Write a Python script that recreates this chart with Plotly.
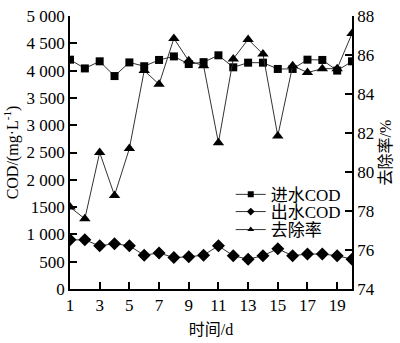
import plotly.graph_objects as go

days = list(range(1, 21))
cod_in = [4200, 4040, 4170, 3900, 4150, 4080, 4195, 4260, 4120, 4155,
          4280, 4060, 4145, 4145, 4030, 4030, 4200, 4195, 4000, 4170]
cod_out = [900, 900, 790, 830, 790, 620, 660, 575, 590, 620,
           790, 610, 545, 610, 735, 610, 640, 640, 610, 545]
removal = [78.2, 77.6, 81.0, 78.8, 81.2, 85.2, 84.5, 86.85, 85.7, 85.45,
           81.5, 85.8, 86.8, 86.05, 81.85, 85.45, 85.1, 85.3, 85.3, 87.1]

left_ticks = [0, 500, 1000, 1500, 2000, 2500, 3000, 3500, 4000, 4500, 5000]
left_text = ["0", "500", "1 000", "1500", "2 000", "2 500", "3 000",
             "3 500", "4 000", "4 500", "5 000"]
right_ticks = [74, 76, 78, 80, 82, 84, 86, 88]
x_ticks = list(range(1, 20, 2))

series_names = ["进水COD", "出水COD", "去除率"]
symbols = ["square", "diamond", "triangle-up"]

FONT = "Liberation Serif, Times New Roman, Noto Sans CJK SC, serif"
LINE = dict(color="#333333", width=1)

fig = go.Figure()
fig.add_trace(go.Scatter(x=days, y=cod_in, mode="lines+markers", showlegend=False,
                         line=LINE, marker=dict(symbol=symbols[0], size=8, color="black")))
fig.add_trace(go.Scatter(x=days, y=cod_out, mode="lines+markers", showlegend=False,
                         line=LINE, marker=dict(symbol=symbols[1], size=10, color="black")))
fig.add_trace(go.Scatter(x=days, y=removal, mode="lines+markers", showlegend=False,
                         yaxis="y2", line=LINE,
                         marker=dict(symbol=symbols[2], size=10, color="black")))

# legend entries with small key markers, one legend per row
legend_rows = [0.345, 0.282, 0.216]
legend_ids = ["legend", "legend2", "legend3"]
for name, sym, lid in zip(series_names, symbols, legend_ids):
    fig.add_trace(go.Scatter(x=[None], y=[None], name=name, mode="lines+markers",
                             legend=lid, line=LINE,
                             marker=dict(symbol=sym, size=6, color="black")))

axis_common = dict(showgrid=False, zeroline=False, showline=True, linecolor="black",
                   linewidth=1.5, ticks="inside", ticklen=7, tickwidth=1.5,
                   tickcolor="black", ticklabeloverflow="allow",
                   tickfont=dict(family=FONT, size=17, color="black"))

legend_style = dict(x=0.57, xanchor="left", yanchor="middle", bgcolor="rgba(0,0,0,0)",
                    font=dict(family=FONT, size=17, color="black"), itemwidth=30,
                    borderwidth=0)

fig.update_layout(
    width=400, height=343,
    margin=dict(l=70, r=48, t=7, b=49),
    paper_bgcolor="white", plot_bgcolor="white",
    font=dict(family=FONT, size=17, color="black"),
    xaxis=dict(range=[1, 20], tickvals=x_ticks, **axis_common,
               title=dict(text="时间/d", font=dict(family=FONT, size=16), standoff=10)),
    yaxis=dict(range=[0, 5000], tickvals=left_ticks, ticktext=left_text, **axis_common,
               title=dict(text="COD/(mg·L<sup>-1</sup>)", font=dict(family=FONT, size=16),
                          standoff=4)),
    yaxis2=dict(range=[74, 88], tickvals=right_ticks, overlaying="y", side="right",
                **axis_common,
                title=dict(text="去除率/%", font=dict(family=FONT, size=16), standoff=6)),
    legend=dict(y=legend_rows[0], **legend_style),
    legend2=dict(y=legend_rows[1], **legend_style),
    legend3=dict(y=legend_rows[2], **legend_style),
)

fig.write_html("out.html")
